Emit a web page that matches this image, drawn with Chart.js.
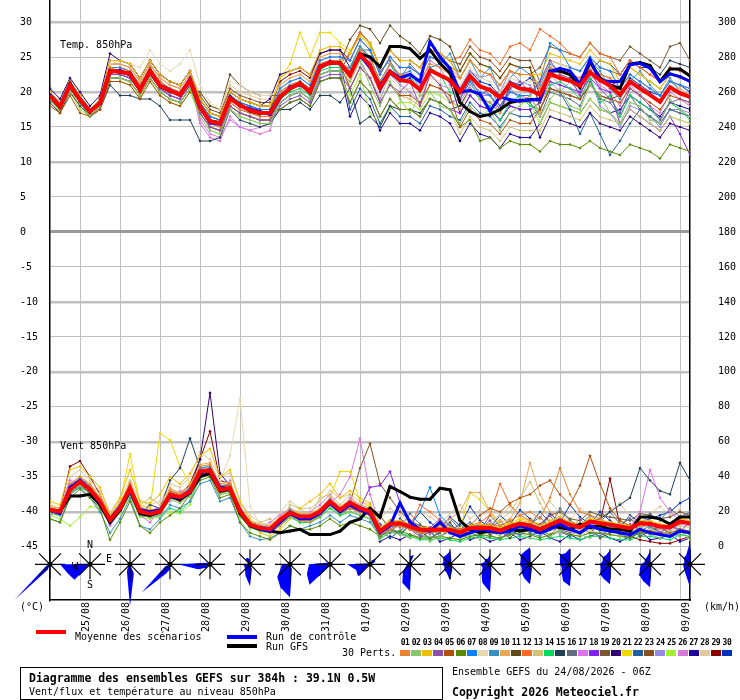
<!DOCTYPE html>
<html>
<head>
<meta charset="utf-8">
<script src="https://cdn.jsdelivr.net/npm/chart.js@4.4.1/dist/chart.umd.min.js"></script>
<style>
  body { margin: 0; background: #fff; }
  #wrap { position: relative; width: 740px; height: 700px; font-family: "DejaVu Sans Mono", monospace; font-size: 10px; color: #000; }
  #wrap canvas { position: absolute; left: 0; top: 0; }
  .t { position: absolute; white-space: pre; line-height: 12px; }
  .b { font-weight: bold; font-size: 11.5px; line-height: 14px; }
  .bar { position: absolute; height: 4px; }
  .pn { position: absolute; top: 638px; width: 10px; text-align: center; font-weight: bold; font-size: 8px; line-height: 10px; letter-spacing: -0.5px; }
  .pb { position: absolute; top: 650px; width: 10px; height: 6px; }
  #box { position: absolute; left: 20px; top: 667px; width: 421px; height: 31px; border: 1px solid #000; }
</style>
</head>
<body>
<div id="wrap">
  <canvas id="c" width="740" height="700"></canvas>
  <div class="bar" style="left:36px;top:630px;width:30px;background:#ff0000"></div>
  <div class="t" style="left:75px;top:631px">Moyenne des scénarios</div>
  <div class="bar" style="left:227px;top:635px;width:30px;background:#0000ff"></div>
  <div class="t" style="left:266px;top:631px">Run de contrôle</div>
  <div class="bar" style="left:227px;top:644px;width:30px;background:#000"></div>
  <div class="t" style="left:266px;top:641px">Run GFS</div>
  <div class="t" style="left:342px;top:647px">30 Perts.</div>
  <div id="perts"></div>
  <div id="box"></div>
  <div class="t b" style="left:29px;top:671px">Diagramme des ensembles GEFS sur 384h : 39.1N 0.5W</div>
  <div class="t" style="left:29px;top:686px">Vent/flux et température au niveau 850hPa</div>
  <div class="t" style="left:452px;top:666px">Ensemble GEFS du 24/08/2026 - 06Z</div>
  <div class="t b" style="left:452px;top:685px">Copyright 2026 Meteociel.fr</div>
</div>
<script>
// time axis: one step = 6h from 24/08 06Z, day ticks at 00Z
const dayTicks = [3, 7, 11, 15, 19, 23, 27, 31, 35, 39, 43, 47, 51, 55, 59, 63];
const dayLabels = ['25/08','26/08','27/08','28/08','29/08','30/08','31/08','01/09','02/09','03/09','04/09','05/09','06/09','07/09','08/09','09/09'];
const tempTicks = [30, 25, 20, 15, 10, 5, 0, -5, -10, -15, -20, -25, -30, -35, -40, -45];
const windTicks = [0, 20, 40, 60, 80, 100, 120, 140, 160, 180, 200, 220, 240, 260, 280, 300];

const pertColors = ['#e8822e','#88c46a','#f0c000','#8e4fa8','#b0500a','#5a8a00','#0a80ff','#e8d8b0','#3890c0','#e8a858',
  '#604818','#ff6820','#d0c078','#00d860','#204058','#607080','#e070f0','#8020f0','#785830','#300070',
  '#f0d800','#2060a0','#885020','#9888e8','#a0f030','#d878d8','#2000a0','#e0c8a0','#880000','#0030c0'];

// temperature 850hPa (°C)
const tempMean = [19.5,17.9,21.0,18.9,17.2,18.4,23.0,22.9,22.6,20.3,23.0,20.9,20.2,19.6,21.7,17.9,15.8,15.5,19.1,18.1,17.4,17.0,17.0,19.3,20.5,21.2,20.0,23.6,24.2,24.1,22.4,25.4,23.8,20.6,22.9,21.7,21.5,20.3,23.1,22.4,21.7,20.0,22.3,20.8,20.3,19.2,21.2,20.5,20.3,19.6,22.6,22.0,21.6,20.9,22.8,21.7,20.9,19.6,21.5,20.5,19.6,18.6,20.7,19.8,19.3];
const tempCtrl = [19.6,18,20.8,19,17.3,18.3,22.8,23.1,22.4,20.5,22.8,21,20.3,19.5,21.9,18,15.6,15.4,19.3,18,17.6,17.2,16.8,19.1,20.7,21,20.2,23.4,24.3,24,22.6,25.2,23.5,21,23,22,22.5,21.5,27.2,25,23.4,20,20.2,19.7,17.3,19.3,18.9,18.7,18.9,18.9,22.9,23.4,23,21.2,24.6,21.7,21.5,21.5,23.9,24.1,23.4,21.5,22.6,22.2,21.5];
const tempGfs = [19.4,17.8,21.2,18.8,17.1,18.5,23.1,22.8,22.7,20.2,23.1,20.8,20.1,19.7,21.6,17.8,15.9,15.6,19,18.2,17.3,16.9,17.1,19.4,20.4,21.3,19.9,23.7,24.1,24.2,22.3,25.5,25,23.6,26.5,26.5,26.2,24.8,26,24.1,22.7,18.5,17.2,16.5,16.8,17.5,18.5,18.8,18.9,19,23,23,22.5,20.7,24.3,22,21,20.5,24,24.2,23.8,21.5,23.3,23.3,22.3];

const t01 = [19.5,18,21.5,19,17,18.5,23.5,23,23,21,23.5,21.5,20.5,20,22,17.5,15.5,15,18.5,17.5,17,16.5,16.5,20,21,21.5,20.5,24,24.5,24.5,23,26,25,21.5,24,22.5,22.5,21.5,24,23.5,22.5,22,24.5,23,22.5,21,23,22.5,22.5,20.5,23.5,23,22.5,22,24,22.5,22,19.5,21.5,20.5,19.5,18.5,20.5,20,19.5];
const t02 = [19,17.5,20,18.5,16.5,18,22,22,21.5,19.5,22,20,19,18.5,20.5,16.5,14.5,14,17.5,16.5,16,15.5,15.5,18.5,19.5,20,19,22.5,23,23,21.5,24.5,21,18,21.5,19,17,19.5,20,18,17.5,15.5,18,16.5,17.5,14.5,17,18,19.5,16.5,19,20.5,18,17.5,21,19.5,17,15.5,18.5,18,16,15.5,19,17.5,16.5];
const t03 = [20,18.5,21.5,19.5,17.5,19,24.5,24.5,24,22,24.5,22.5,21.5,21,23,19,17,16.5,20,19,18.5,18,18,22,23,23.5,22.5,26,26.5,26.5,25.5,28,27,23.5,26,24.5,24.5,23.5,26,25.5,24.5,22,24.5,23,22.5,21,23,22.5,22.5,22.5,25.5,25,24.5,24,26,24.5,24,21.5,23.5,22.5,21.5,20.5,22.5,22,21.5];
const t04 = [19.5,18,21,19,17,18.5,22.5,22.5,22,20,22.5,20.5,19.5,19,21,17,15,14.5,18,17,16.5,16,16,18,19,19.5,18.5,22,22.5,22.5,20.5,23.5,22,18.5,21,20,21.5,18,22.5,21,18.5,19,22,19.5,20.5,18,20.5,21.5,20,21.5,24.5,22.5,22,19.5,23,20.5,19,17,20.5,19.5,18,16,18.5,19,18.5];
const t05 = [18,17,19.5,17,16.5,17.5,21.5,21.5,21,19,21.5,19.5,18.5,18,20,19,17,16.5,20,19,18.5,18,18,19.5,20.5,21,20,23.5,24,24,20.5,23.5,22,18.5,21,19.5,19.5,18.5,21,20.5,19.5,15,17.5,16,15.5,14,16,15.5,15.5,17.5,20.5,20,19.5,19,21,19.5,19,18.5,20.5,19.5,18.5,17.5,19.5,19,18.5];
const t06 = [19,17.5,20.5,18.5,16.5,18,22,22,21.5,19.5,22,20,19,18.5,20.5,18,16,15.5,19,18,17.5,17,17,17.5,18.5,19,18,21.5,22,22,18.5,21.5,20,16.5,19,17.5,17.5,16.5,19,18.5,17.5,15,16,13,13.5,12,13,12.5,12.5,11.5,13,12.5,12.5,12,13,12,11.5,11,12.5,12,11.5,10.5,12.5,12,11.5];
const t07 = [20,18.5,21.5,19.5,17.5,19,23,23,22.5,20.5,23,21,20,19.5,21.5,18.5,16.5,16,19.5,18.5,18,17.5,17.5,20.5,21.5,22,21,24.5,25,25,24.5,27.5,26,22.5,25,23.5,23.5,22.5,25,24.5,23.5,19,21.5,20,19.5,18,20,19.5,19.5,21.5,27,26,23.5,23,25,23.5,23,20.5,22.5,21.5,20.5,19.5,21.5,21,20.5];
const t08 = [19.5,18,21,19,17,18.5,24,24.5,24,23.5,26,24,23,24,26,21,18.5,17.5,21.5,21,20,19.5,19.5,20.5,21.5,22,21,24.5,25,25,21.5,24.5,23,19.5,22,20.5,20.5,19.5,22,21.5,20.5,21,23.5,22,21.5,20,22,21.5,21.5,21.5,24.5,24,23.5,23,25,23.5,23,21.5,23.5,22.5,21.5,20.5,22.5,22,21.5];
const t09 = [19.5,18,21,19,17,18.5,23.5,23.5,23,21,23.5,21.5,20.5,20,22,18,16,15.5,19,18,17.5,17,17,18.5,19.5,20,19,22.5,23,23,23.5,26.5,25,21.5,24,22.5,23,20.5,23.5,24,25.5,22,24.5,22,23.5,20,22,23.5,22.5,21,24,23,22.5,20.5,24.5,23,20.5,19,21.5,23,21,19.5,22,20,19];
const t10 = [20,18.5,21.5,19.5,17.5,19,24,24,23.5,21.5,24,22,21,20.5,22.5,17.5,15.5,15,18.5,17.5,17,16.5,16.5,21,22,22.5,21.5,25,25.5,25.5,20.5,23.5,22,18.5,21,19.5,19,18,21,20.5,19,17.5,20.5,19,18.5,17,19,18.5,19.5,17,22,22.5,21.5,20.5,23.5,22,20.5,19,22.5,21.5,20.5,19.5,21.5,20.5,19.5];
const t11 = [19,17.5,20.5,18.5,16.5,18,22,22,21.5,19.5,22,20,19,18.5,20.5,20,18,17.5,22.5,21,20,19.5,19.5,19.5,20.5,21,20,23.5,24,24,27.5,29.5,29,27,29.5,28,27,25.5,28,27.5,26.5,23,25.5,24,23.5,22,24,23.5,23.5,17.5,20.5,20,19.5,19,21,19.5,19,19.5,21.5,20.5,19.5,18.5,20.5,20,19.5];
const t12 = [19.5,18,21,19,17,18.5,23.5,23.5,23,21,23.5,21.5,20.5,20,22,17,15,14.5,18,17,16.5,16,16,19.5,20.5,21,20,23.5,24,24,25.5,28.5,27,23.5,26,24.5,24.5,23.5,26,25.5,24.5,25,27.5,26,25.5,24,26.5,27,26,29,28,27,25.5,25,27,25.5,25,22.5,24.5,23.5,22.5,21.5,23.5,23,22.5];
const t13 = [19,17.5,20.5,18.5,16.5,18,23.5,23.5,23,21,23.5,21.5,20.5,20,22,18,16,15.5,19,18,17.5,17,17,18.5,19.5,20,19,22.5,23,23,18.5,21.5,20,16.5,19,17.5,17.5,16.5,19,18.5,17.5,14,16.5,15,14.5,13,15,14.5,14.5,14.5,17.5,17,16.5,16,18,16.5,16,15.5,17.5,16.5,15.5,14.5,16.5,16,15.5];
const t14 = [19.5,18,21,19,17,18.5,23,23,22.5,20.5,23,21,20,19.5,21.5,17,15,14.5,18,17,16.5,16,16,19,20,20.5,19.5,23,23.5,23.5,23.5,26.5,25,21.5,24,21.5,22.5,20,23.5,22.5,20,19,21.5,19,18,16,18.5,19.5,18,17.5,21,21.5,20.5,19,22,18.5,19.5,16.5,19.5,18.5,17.5,16,18.5,17.5,16];
const t15 = [18.5,17,20,18,16.5,17.5,21,19.5,19.5,19,19,18,16,16,16,13,13,13.5,17.5,16,15.5,15,15.5,17.5,17.5,18.5,17.5,19.5,19.5,18.5,20.5,15.5,16.5,15,18,17.5,17.5,17,19,18.5,17.5,18,20.5,19,18.5,17,21,20.5,20.5,19.5,22.5,22,21.5,21,23,24.5,24,22.5,24.5,23.5,23.5,22.5,24.5,24,23.5];
const t16 = [19.5,18,21,19,17,18.5,23.5,23.5,23,21,23.5,21.5,20.5,20,22,18.5,16.5,16,19.5,18.5,18,17.5,17.5,20,21,21.5,20.5,24,24.5,24.5,23,26,26,23,24.5,22,24,22.5,26,25.5,23,20,22.5,21,19.5,17.5,20.5,19,18.5,16.5,20,19.5,19,18,21.5,19,18.5,16.5,19.5,17.5,16.5,15.5,17.5,17,16.5];
const t17 = [20,18.5,21.5,19.5,17.5,19,24,24,23.5,21.5,24,22,21,20.5,22.5,16,14,13.5,16,15,14.5,15,15.5,20.5,21.5,22,21,24.5,25,25,24.5,27.5,26,22.5,25,23.5,23.5,22.5,25,24.5,23.5,22,24.5,23,22.5,21,23,22.5,22.5,20.5,23.5,23,22.5,22,24,22.5,22,20.5,22.5,21.5,20.5,19.5,21.5,21,20.5];
const t18 = [19,17.5,20.5,18.5,16.5,18,22.5,22.5,22,20,22.5,20.5,19.5,19,21,17,15,14.5,18,17,16.5,16,16,17.5,18.5,19,18,21.5,22,22,18.5,21.5,20,16.5,19,17.5,17.5,16.5,19,18.5,17.5,17,19.5,18,17.5,16,18,17.5,17.5,18.5,21.5,21,20.5,20,22,20.5,20,15.5,17.5,16.5,15.5,14.5,16.5,14,11];
const t19 = [19.5,18,21,19,17,18.5,23,23,22.5,20.5,23,21,20,19.5,21.5,19,17,16.5,20,19,18.5,18,18,19.5,20.5,21,20,23.5,24,24,25.5,28.5,27,23.5,26,24.5,24.5,23.5,26,25.5,24.5,22,24.5,23,22.5,21,23,22.5,22.5,23.5,26.5,26,25.5,25,27,25.5,25,24.5,26.5,25.5,24.5,23.5,26.5,27,24.5];
const t20 = [20.5,19,22,20,18,19.5,25.5,24.5,24,22,24.5,22.5,21.5,21,23,19,17,16.5,20,19,18.5,18,19,22.5,23,23.5,22.5,25.5,26,26,23.5,25.5,24,20.5,23,21.5,21.5,20.5,23,22.5,21.5,17,19.5,18,17.5,16,18,17.5,17.5,13.5,16.5,16,15.5,15,17,15.5,15,14.5,16.5,15.5,14.5,13.5,15.5,15,14.5];
const t21 = [20,18.5,21.5,19.5,17.5,19,24,24,23.5,21.5,24,22,21,20.5,22.5,18.5,16.5,16,19.5,18.5,18,17.5,17.5,22,24,28.5,25,28.5,28.5,27,26,28,26.5,22.5,25,23.5,23.5,22.5,25,24.5,23.5,23,25.5,24,23.5,22,24,23.5,23.5,20.5,23.5,23,22.5,22,24,22.5,22,21.5,23.5,22.5,21.5,20.5,22.5,22,21.5];
const t22 = [19,17.5,20.5,18.5,16.5,18,23,23,22.5,20.5,23,21,20,19.5,21.5,17,15,14.5,18,17,16.5,16,16,20,21,21.5,20.5,24,24.5,24.5,17.5,20.5,19,15.5,18,16.5,16.5,15.5,18,17.5,16.5,16,18.5,17,16.5,15,17,16.5,16.5,17.5,20.5,20,17.5,14,17,14,11,13,15.5,17.5,16.5,15.5,17.5,17,16.5];
const t23 = [19.5,18,21,19,17,18.5,22.5,22.5,22,20,22.5,20.5,19.5,19,21,19.5,17.5,17,20.5,19.5,19,18.5,18.5,18.5,19.5,20,19,22.5,23,23,25.5,28.5,27,23.5,26,24.5,24.5,23.5,26,25.5,24.5,24,26.5,25,24.5,23,25,24.5,24.5,21.5,24.5,24,23.5,23,25,23.5,23,22.5,24.5,23.5,22.5,21.5,23.5,23,22.5];
const t24 = [19.5,18,21,19,17,18.5,22,22,21.5,19.5,22,20,19,18.5,20.5,17,15,14.5,18,17,16.5,16,16,18.5,19.5,20,19,22.5,23,23,21.5,24.5,22,19,22.5,21,20,18.5,22.5,21,20.5,20.5,23,22,22.5,20,23,21.5,21,18.5,21.5,20,21.5,20,22,18,17,15,18,17.5,16.5,15,17.5,17.5,17];
const t25 = [19,17,20,17.5,16.5,17.5,21.5,21.5,21,19,21.5,19.5,18.5,18,20,16.5,14.5,14,17.5,16.5,16,15.5,15.5,17.5,18.5,19,18,21.5,22,22,19.5,22.5,17,15.5,17.5,18.5,18.5,17.5,20,19.5,18.5,18,20.5,19,18.5,17,19,18.5,18.5,15.5,18.5,18,17.5,17,19,17.5,17,15.5,17.5,16.5,15.5,14.5,16.5,16,15.5];
const t26 = [19.5,18,21,19,17,18.5,23,23,22.5,20.5,23,21,20,19.5,21.5,15.5,13.5,13,16.5,15,14.5,14,14.5,19.5,20.5,21,20,23.5,24,24,23.5,26.5,24.5,20.5,24,22,23,21,24.5,23.5,21,18.5,21,19.5,19.5,17,20,19.5,19,18.5,22.5,21,20.5,19.5,22.5,21,20,18,21,19.5,18,17,20,19,18];
const t27 = [20,18.5,21.5,19.5,17.5,19,23,23,22.5,20.5,23,21,20,19.5,21.5,18,16,15.5,19,18,17.5,17,17,18.5,19.5,20,19,22.5,23,23,16.5,19.5,18,14.5,17,15.5,15.5,14.5,17,16.5,15.5,13,15.5,14,13.5,12,14,13.5,13.5,15.5,18.5,18,17.5,17,19,17.5,17,17.5,19.5,18.5,17.5,16.5,18.5,18,17.5];
const t28 = [19.5,18,21,19,17,18.5,24,24,23.5,21.5,24,22,21,20.5,22.5,20,18,17.5,21,20,19.5,19,19,21,22,22.5,21.5,25,25.5,25.5,24.5,27.5,26,22.5,25,23.5,23.5,22.5,25,24.5,23.5,20,22.5,21,20.5,19,21,20.5,20.5,21.5,24.5,24,23.5,23,25,23.5,23,20.5,22.5,21.5,20.5,19.5,21.5,21,20.5];
const t29 = [20,18.5,21.5,19.5,17.5,19,24.5,24.5,24,22,24.5,22.5,21.5,21,23,18.5,16.5,16,19.5,18.5,18,17.5,17.5,21.5,22.5,23,22,25.5,26,26,24.5,27.5,26,22.5,25,23.5,23.5,22.5,25,24.5,23.5,23,25.5,24,23.5,22,24,23.5,23.5,19.5,22.5,22,21.5,21,23,21.5,21,21.5,23.5,22.5,21.5,20.5,22.5,22,21.5];
const t30 = [19.5,18,21,19,17,18.5,23,23,22.5,20.5,23,21,20,19.5,21.5,17.5,15.5,15,18.5,17.5,17,16.5,16.5,19.5,20.5,21,20,23.5,24,24,22.5,25.5,23.5,20,22.5,21.5,22,20,23,22.5,21.5,20.5,23,21.5,21,19.5,21.5,21,22,20.5,23,22,21.5,20.5,23,22,21,19.5,22,21,20,19.5,21.5,21,20];

// wind 850hPa (km/h)
const windMean = [21,20.2,32.6,37.3,32.6,25.9,15.4,22,33.5,20.2,18.9,20.2,29.7,28.4,31.6,43,43.6,32.6,33.5,20.2,12.6,10.7,10.1,15.4,19.6,17.3,17.3,20.2,25.9,21.1,25.3,22,20.2,8.8,13.1,13.5,11.6,9.7,9.7,9.9,9.7,8.2,10.7,10.9,10.7,9.3,11.6,13.1,12.2,9.9,12.6,15,12.6,11.2,14.4,13.5,12.6,11.6,10.7,13.5,13.1,11.6,11.2,14.4,13.5];
const windCtrl = [21,19,34,38,33,25,16,23,32,21,20,21,29,28,31,42,44,34,33,21,13,10,9,14,19,16,16,19,25,20,24,21,19,8,12,25,14,10,9,14,8,6,8,10,9,8,9,12,10,8,10,13,10,8,12,10,9,8,7,10,8,7,6,9,8];
const windGfs = [21,20,29,29,30,24,14,21,32,19,18,20,29,27,31,40,42,32,33,19,12,10,9,8,9,10,7,7,7,9,14,16,22,17,34.5,31.6,28.4,27.2,27.2,33.5,32.6,15,10,8,9,8,10,9,10,8,12,11,10,13,11,12,10,10,9,17,17,16,13,17,17];

const w01 = [22,21,36,40,35,28,16,24,36,22,20,22,32,30,35,46,47,35,36,22,14,12,8,12,18,15,14,18,24,20,22,20,18,7,10,12,10,8,8,9,8,7,10,12,13,12,15,18,20,16,28,45,30,20,18,16,13,10,8,9,8,7,6,9,8];
const w02 = [19,18,31,35,30,24,14,20,30,18,17,18,27,25,29,40,41,30,31,18,12,10,9,13,18,15,15,18,23,19,20,18,16,4,9,7,5,8,3,6,10,5,7,4,9,6,12,8,5,10,6,9,14,7,5,9,12,6,8,11,7,5,9,6,10];
const w03 = [26,24,44,46,40,34,18,28,44,26,25,30,40,36,42,52,56,40,44,26,16,8,6,10,16,22,26,30,36,28,32,28,25,11,15,15,13,11,10,12,11,9,12,13,12,11,13,15,14,12,15,17,14,13,16,15,14,13,12,15,15,13,12,16,15];
const w04 = [20,19,32,36,32,25,14,21,32,19,18,19,29,27,31,42,43,32,33,19,12,10,9,14,19,16,16,19,25,20,24,21,19,12,8,14,10,6,11,16,9,7,12,10,15,8,11,14,9,13,18,10,8,12,16,9,11,7,13,10,15,8,12,9,14];
const w05 = [21,20,34,38,34,27,15,23,34,21,19,20,31,29,33,44,45,34,35,21,12,10,9,14,19,16,16,19,24,20,23,20,18,8,12,12,10,9,9,10,10,9,12,18,22,20,25,28,30,35,38,30,24,35,52,36,22,15,12,10,9,8,8,10,9];
const w06 = [16,14,28,33,28,22,4,14,26,12,8,14,18,22,30,38,40,28,30,14,8,6,4,8,12,10,10,12,16,12,14,12,10,6,9,9,7,5,5,6,5,4,6,7,6,5,7,8,7,5,7,9,7,6,8,8,7,6,5,8,8,7,6,9,8];
const w07 = [22,21,35,39,35,27,16,23,35,21,20,21,31,29,34,45,46,35,35,21,14,12,11,16,21,18,18,21,27,22,26,23,21,10,14,14,12,20,34,18,12,9,12,12,11,10,12,14,13,11,13,16,13,12,15,14,13,12,11,14,14,12,11,15,14];
const w08 = [21,20,33,37,33,26,15,22,33,20,19,20,30,28,32,43,44,38,52,85,23,13,11,16,21,18,18,21,27,22,26,23,21,10,14,14,12,10,10,11,10,9,12,12,11,10,12,14,13,11,8,10,9,7,9,8,7,9,8,10,10,8,7,9,8];
const w09 = [16,14,30,34,28,20,8,16,28,12,10,16,24,22,26,36,38,26,28,14,6,4,5,8,12,10,12,14,18,14,18,16,14,6,10,8,12,7,5,9,11,6,8,10,13,9,7,11,8,6,10,14,9,12,8,6,10,13,9,7,11,8,12,10,9];
const w10 = [23,22,36,40,36,28,17,25,37,23,21,22,33,31,35,47,48,36,37,23,15,13,12,17,22,19,19,22,28,23,27,24,22,11,14,14,12,10,10,12,16,20,31,31,20,14,16,25,48,30,20,17,14,12,15,14,13,12,11,14,14,12,11,15,14];
const w11 = [20,19,31,35,31,24,14,21,31,19,18,19,28,26,30,41,42,31,32,19,12,10,9,13,18,15,15,18,24,19,22,20,18,18,10,7,12,9,5,8,14,6,10,13,7,9,5,11,8,12,6,14,9,7,11,5,8,13,10,6,9,12,7,10,8];
const w12 = [21,20,33,37,33,26,15,22,33,20,19,20,30,28,32,43,44,33,34,20,13,11,10,15,20,17,17,20,26,21,25,22,20,9,13,13,11,24,20,15,12,10,12,14,18,36,24,18,15,12,13,15,12,11,14,13,12,11,10,13,13,11,11,14,13];
const w13 = [24,20,30,40,36,30,18,26,30,24,28,24,34,30,28,40,46,36,30,24,10,14,16,12,24,22,18,28,30,24,30,20,18,8,12,12,10,8,8,9,8,7,9,10,12,15,20,28,37,25,15,13,11,10,12,12,11,10,9,12,11,10,9,12,11];
const w14 = [19,18,31,34,31,24,14,20,31,18,17,18,22,20,26,41,42,31,32,18,11,9,8,12,17,14,14,17,22,18,20,18,16,5,8,8,6,4,4,5,4,3,5,6,5,4,5,6,5,4,5,6,5,4,6,6,5,4,4,6,6,5,4,7,6];
const w15 = [20,19,32,36,32,25,14,21,32,19,24,22,38,45,62,45,40,32,33,19,12,10,9,14,19,16,16,19,25,20,24,21,19,8,12,12,10,8,8,9,8,7,9,10,9,9,11,13,12,10,12,14,12,11,14,16,20,24,28,45,38,32,30,48,38];
const w16 = [21,20,33,37,34,26,15,22,33,20,19,20,30,28,32,43,44,33,34,20,13,11,10,15,20,17,17,20,26,21,25,22,20,7,15,11,19,13,8,12,16,10,14,9,18,12,15,10,13,17,11,22,15,12,18,14,20,13,16,12,19,15,22,17,20];
const w17 = [18,22,38,36,30,24,12,20,36,18,14,22,26,32,30,46,42,30,38,18,12,10,14,18,22,14,20,24,30,20,28,24,22,10,14,14,12,10,10,11,10,9,11,12,11,10,12,14,13,11,13,16,13,12,15,14,13,12,11,20,44,28,20,15,14];
const w18 = [22,20,33,37,33,26,15,22,33,20,19,20,30,28,32,43,44,33,34,20,13,11,10,15,20,17,17,20,26,21,25,22,34,35,43,25,15,10,10,10,10,8,11,11,10,9,12,13,12,10,13,15,13,11,14,14,13,12,11,14,13,12,11,15,14];
const w19 = [21,20,33,37,33,26,15,22,33,20,19,20,30,28,32,43,44,33,34,20,13,11,10,15,20,17,17,20,26,21,25,22,20,9,13,14,12,10,10,10,10,9,12,11,12,11,13,14,13,11,18,20,16,15,20,18,17,16,15,19,18,16,17,20,18];
const w20 = [22,21,34,38,34,27,16,23,34,21,20,21,31,29,33,50,88,42,35,21,14,12,11,16,21,18,18,21,27,22,26,23,21,10,14,14,12,10,10,11,10,9,11,12,11,10,12,14,13,11,13,16,13,12,15,14,13,12,11,14,14,12,11,15,14];
const w21 = [23,22,36,40,36,28,17,25,53,24,22,65,61,46,36,45,46,36,37,23,15,13,12,17,22,19,19,22,28,43,43,26,23,11,15,15,13,11,11,12,11,10,31,27,20,12,14,16,15,13,14,17,14,13,16,15,14,13,12,15,15,13,12,16,15];
const w22 = [20,19,32,36,32,25,14,21,32,19,18,19,29,27,31,42,43,32,33,19,12,10,9,14,19,16,16,19,25,20,24,21,19,10,5,9,14,7,11,6,9,13,8,6,10,15,9,7,12,20,14,9,6,11,8,13,10,7,5,9,12,8,6,10,7];
const w23 = [21,20,33,37,33,26,15,22,33,20,19,20,30,28,32,43,44,33,34,20,13,11,10,15,20,17,17,20,26,21,25,45,59,36,28,20,15,12,11,11,10,9,11,12,11,10,12,14,13,11,13,16,13,12,15,14,13,12,11,14,14,12,11,15,14];
const w24 = [19,18,31,35,31,24,14,21,31,19,18,19,28,27,30,41,42,31,32,19,12,10,9,14,19,16,16,19,24,20,23,20,18,6,11,8,5,10,7,13,9,5,8,12,7,4,9,6,11,8,13,7,10,16,9,6,12,8,5,10,7,11,8,6,9];
const w25 = [18,16,12,17,23,22,14,19,29,17,16,17,20,19,24,40,41,30,31,17,11,9,8,12,17,14,14,17,22,18,20,18,16,5,8,8,6,5,5,6,5,4,6,7,6,5,7,8,7,5,7,9,7,6,8,8,7,6,5,8,8,7,6,9,4];
const w26 = [20,19,32,36,32,25,15,22,32,20,19,20,29,27,31,42,43,32,33,20,13,11,10,14,19,16,16,19,25,30,40,62,30,12,12,12,10,8,8,9,8,7,9,10,9,8,10,12,11,9,11,14,11,10,13,12,11,10,9,12,12,10,10,13,12];
const w27 = [21,20,33,37,33,24,13,20,30,18,17,18,30,28,32,43,44,33,34,20,13,11,10,15,20,17,17,20,26,21,25,22,20,3,6,4,7,5,9,3,5,8,4,6,3,5,8,4,6,9,5,3,7,4,6,8,5,3,6,9,4,5,7,3,5];
const w28 = [24,22,40,44,38,32,20,28,38,26,24,26,36,34,40,54,50,40,42,26,18,14,12,20,26,22,22,26,32,28,30,26,24,16,22,18,14,20,17,13,19,24,16,21,15,18,23,17,14,20,26,19,15,22,18,16,21,25,17,14,19,23,18,21,17];
const w29 = [22,21,46,49,40,30,17,25,36,22,21,22,32,30,36,50,66,38,36,22,14,12,11,16,21,18,18,21,27,22,26,23,21,10,14,14,12,10,10,11,10,9,12,12,11,10,12,14,13,11,13,16,13,12,15,14,39,12,6,4,3,2,2,4,6];
const w30 = [21,20,33,37,33,26,15,22,33,20,19,20,30,28,32,43,44,33,34,20,13,11,10,15,20,17,17,20,26,21,25,22,20,13,9,16,12,20,14,10,17,12,23,15,11,18,13,21,16,12,19,14,24,17,13,20,15,11,18,14,16,18,20,25,28];

const tempPerts = [t01,t02,t03,t04,t05,t06,t07,t08,t09,t10,t11,t12,t13,t14,t15,t16,t17,t18,t19,t20,t21,t22,t23,t24,t25,t26,t27,t28,t29,t30];
const windPerts = [w01,w02,w03,w04,w05,w06,w07,w08,w09,w10,w11,w12,w13,w14,w15,w16,w17,w18,w19,w20,w21,w22,w23,w24,w25,w26,w27,w28,w29,w30];

// direction roses, every 24h, share of members per 16 sectors (N, NNE, ... NNW)
const roseSteps = [0, 4, 8, 12, 16, 20, 24, 28, 32, 36, 40, 44, 48, 52, 56, 60, 64];
const roseFreq = [
  [0,0,0,0,0,0,0,0,0,12,100,8,0,0,0,0],
  [0,0,0,0,0,0,0,0,0,0,44,48,60,0,0,0],
  [0,0,0,0,0,0,0,20,84,16,6,0,0,0,0,0],
  [0,0,0,0,0,0,0,0,10,20,80,10,0,0,0,0],
  [6,0,0,0,0,0,0,0,0,0,10,26,64,8,0,0],
  [10,0,0,0,0,0,0,10,44,24,14,12,14,0,14,14],
  [16,0,0,0,0,0,0,10,66,50,36,20,16,0,0,0],
  [10,0,0,0,0,0,0,0,0,6,58,50,42,8,0,0],
  [0,8,16,10,0,0,0,0,0,0,34,30,46,4,0,0],
  [16,20,0,0,0,0,0,6,54,40,20,8,8,0,0,0],
  [26,8,0,0,0,0,6,12,32,18,16,12,16,14,20,20],
  [20,0,0,0,0,0,0,8,56,40,24,16,20,12,14,12],
  [34,0,0,0,0,0,4,10,40,30,24,18,20,20,26,28],
  [32,0,0,0,0,0,0,6,44,36,24,18,20,22,28,24],
  [28,0,0,0,0,0,0,6,40,32,28,20,20,16,20,20],
  [26,0,0,0,0,0,0,8,46,36,30,22,18,12,14,16],
  [44,6,0,0,0,0,0,6,46,22,16,14,14,12,18,20]
];

const Y_MIN = -52.6, Y_MAX = 33.15;   // left scale span (°C); right scale km/h = (°C + 45) * 4
const ROSE_LEVEL = -47.5;
const ROSE_SCALE = 0.5;
const FONT = { family: '"DejaVu Sans Mono", monospace', size: 10 };

const pts = arr => arr.map((v, i) => ({ x: i, y: v }));

function pertSet(arr, color, axis) {
  return {
    data: pts(arr), yAxisID: axis, borderColor: color, backgroundColor: color,
    borderWidth: 1, pointRadius: 1.6, pointStyle: 'rectRot', pointBorderWidth: 0,
    pointBackgroundColor: color, tension: 0, order: 3
  };
}
function mainSet(arr, color, width, axis, order, radius) {
  return {
    data: pts(arr), yAxisID: axis, borderColor: color, backgroundColor: color,
    borderWidth: width, pointRadius: radius, pointBorderWidth: 0, tension: 0, order: order
  };
}

const datasets = [];
tempPerts.forEach((a, k) => datasets.push(pertSet(a, pertColors[k], 'y')));
windPerts.forEach((a, k) => datasets.push(pertSet(a, pertColors[k], 'y2')));
datasets.push(mainSet(tempGfs, '#000000', 3, 'y', 2, 1.5));
datasets.push(mainSet(windGfs, '#000000', 3, 'y2', 2, 1.5));
datasets.push(mainSet(tempCtrl, '#0000ff', 3, 'y', 1, 1.5));
datasets.push(mainSet(windCtrl, '#0000ff', 3, 'y2', 1, 1.5));
datasets.push(mainSet(tempMean, '#ff0000', 4, 'y', 0, 0));
datasets.push(mainSet(windMean, '#ff0000', 4, 'y2', 0, 0));

const noPad = s => { s.paddingTop = 0; s.paddingBottom = 0; };

const overlay = {
  id: 'overlay',
  afterDraw(chart) {
    const { ctx, scales: { x, y } } = chart;
    ctx.save();
    ctx.font = '10px "DejaVu Sans Mono"';
    ctx.fillStyle = '#000';
    ctx.textBaseline = 'middle';
    ctx.textAlign = 'left';
    ctx.fillText('Temp. 850hPa', x.getPixelForValue(1), y.getPixelForValue(26.7));
    ctx.fillText('Vent 850hPa', x.getPixelForValue(1), y.getPixelForValue(-30.6));
    ctx.fillText('(°C)', 20, chart.chartArea.bottom + 7);
    ctx.fillText('(km/h)', 704, chart.chartArea.bottom + 7);

    const cy = y.getPixelForValue(ROSE_LEVEL);
    roseSteps.forEach((step, k) => {
      const cx = x.getPixelForValue(step);
      ctx.beginPath();
      roseFreq[k].forEach((p, j) => {
        const a = j * Math.PI / 8, r = p * ROSE_SCALE;
        const px = cx + r * Math.sin(a), py = cy - r * Math.cos(a);
        if (j === 0) ctx.moveTo(px, py); else ctx.lineTo(px, py);
      });
      ctx.closePath();
      ctx.fillStyle = '#0000ff';
      ctx.fill();

      ctx.strokeStyle = '#000';
      ctx.lineWidth = 1.2;
      ctx.beginPath();
      ctx.moveTo(cx - 15, cy); ctx.lineTo(cx + 15, cy);
      ctx.moveTo(cx, cy - 15); ctx.lineTo(cx, cy + 15);
      ctx.moveTo(cx - 11, cy - 11); ctx.lineTo(cx + 11, cy + 11);
      ctx.moveTo(cx - 11, cy + 11); ctx.lineTo(cx + 11, cy - 11);
      ctx.stroke();
      ctx.beginPath();
      ctx.arc(cx, cy, 2.5, 0, 2 * Math.PI);
      ctx.fillStyle = '#000';
      ctx.fill();
    });

    // compass letters on the second rose
    const c1 = x.getPixelForValue(roseSteps[1]);
    ctx.textAlign = 'center';
    ctx.fillStyle = '#000';
    ctx.fillText('N', c1, cy - 19);
    ctx.fillText('S', c1, cy + 21);
    ctx.fillText('E', c1 + 19, cy - 5);
    ctx.fillText('W', c1 - 15, cy + 3);
    ctx.restore();
  }
};

new Chart(document.getElementById('c'), {
  type: 'line',
  data: { datasets: datasets },
  options: {
    responsive: false,
    animation: false,
    layout: { autoPadding: false, padding: { left: 20, right: 0, top: 0, bottom: 0 } },
    plugins: { legend: { display: false }, tooltip: { enabled: false } },
    scales: {
      x: {
        type: 'linear', min: 0, max: 64,
        afterBuildTicks: s => { s.ticks = dayTicks.map(v => ({ value: v })); },
        afterFit: s => { s.height = 100; s.paddingLeft = 0; s.paddingRight = 0; },
        ticks: { autoSkip: false, maxRotation: 90, minRotation: 90, padding: 2, labelOffset: 6, font: FONT, color: '#000',
                 callback: (v, i) => dayLabels[i] },
        grid: { color: '#c0c0c0', lineWidth: 1, drawTicks: false },
        border: { color: '#000', width: 1.5 }
      },
      y: {
        position: 'left', min: Y_MIN, max: Y_MAX,
        afterBuildTicks: s => { s.ticks = tempTicks.map(v => ({ value: v })); },
        afterFit: s => { s.width = 30; noPad(s); },
        ticks: { autoSkip: false, crossAlign: 'far', font: FONT, color: '#000' },
        grid: {
          drawTicks: false,
          color: c => (c.tick && c.tick.value === 0) ? '#999999' : '#c0c0c0',
          lineWidth: c => {
            const v = c.tick ? c.tick.value : 1;
            return v === 0 ? 3 : (v % 10 === 0 ? 2.5 : 1);
          }
        },
        border: { color: '#000', width: 1.5 }
      },
      y2: {
        position: 'right', min: (Y_MIN + 45) * 4, max: (Y_MAX + 45) * 4,
        afterBuildTicks: s => { s.ticks = windTicks.map(v => ({ value: v })); },
        afterFit: s => { s.width = 50; noPad(s); },
        ticks: { autoSkip: false, padding: 20, font: FONT, color: '#000' },
        grid: { display: false },
        border: { color: '#000', width: 1.5 }
      }
    }
  },
  plugins: [overlay]
});

// perturbation colour key
const perts = document.getElementById('perts');
pertColors.forEach((c, k) => {
  const left = 400 + k * 11.1;
  const n = document.createElement('div');
  n.className = 'pn';
  n.style.left = left + 'px';
  n.textContent = String(k + 1).padStart(2, '0');
  perts.appendChild(n);
  const b = document.createElement('div');
  b.className = 'pb';
  b.style.left = left + 'px';
  b.style.background = c;
  perts.appendChild(b);
});
</script>
</body>
</html>
